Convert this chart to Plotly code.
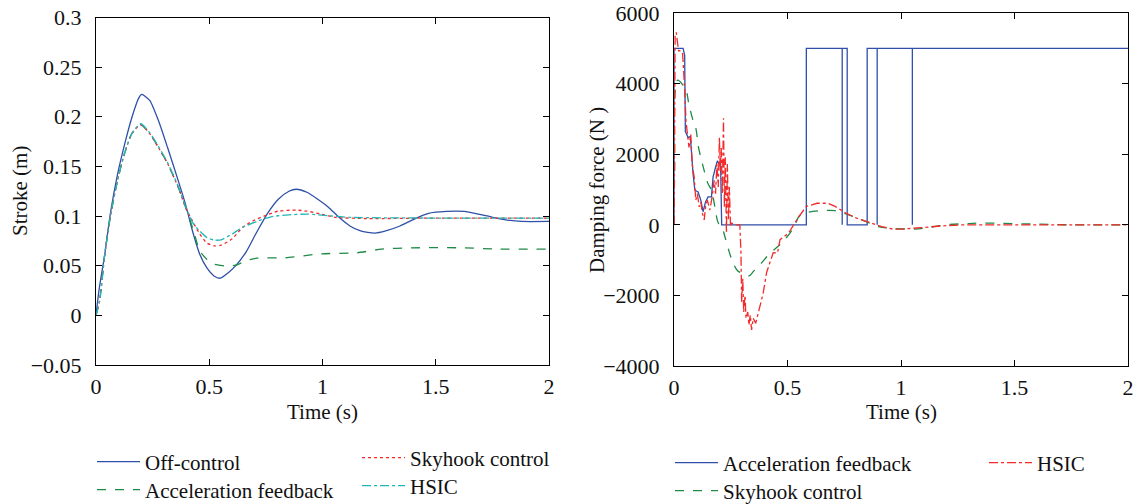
import plotly.graph_objects as go

# ---------------- Stroke (left panel) ----------------
t_off = [0, 0.013, 0.039, 0.063, 0.095, 0.126, 0.158, 0.189, 0.202, 0.237, 0.276, 0.316,
         0.363, 0.395, 0.426, 0.458, 0.489, 0.521, 0.548, 0.584, 0.616, 0.663, 0.71, 0.758,
         0.805, 0.852, 0.884, 0.931, 0.979, 1.026, 1.073, 1.121, 1.168, 1.231, 1.279, 1.342,
         1.405, 1.468, 1.547, 1.626, 1.689, 1.752, 1.815, 1.878, 2.0]
s_off = [0, 0.025, 0.062, 0.102, 0.142, 0.172, 0.199, 0.219, 0.2225, 0.2165, 0.196, 0.169,
         0.1357, 0.112, 0.085, 0.0616, 0.048, 0.0397, 0.0374, 0.043, 0.0498, 0.064, 0.084, 0.103,
         0.117, 0.125, 0.127, 0.124, 0.117, 0.109, 0.0987, 0.090, 0.085, 0.0828, 0.085, 0.090,
         0.097, 0.1027, 0.1047, 0.1047, 0.102, 0.0987, 0.096, 0.0946, 0.0946]

t_acc = [0, 0.016, 0.039, 0.063, 0.095, 0.126, 0.158, 0.197, 0.237, 0.276, 0.316, 0.363,
         0.395, 0.426, 0.458, 0.489, 0.521, 0.568, 0.616, 0.663, 0.71, 0.837, 0.995, 1.152,
         1.26, 1.39, 1.625, 1.78, 2.0]
s_acc = [0, 0.0145, 0.062, 0.099, 0.136, 0.163, 0.183, 0.192, 0.183, 0.169, 0.153, 0.129,
         0.109, 0.0886, 0.065, 0.0566, 0.0515, 0.0498, 0.0505, 0.055, 0.0576, 0.058, 0.062, 0.063,
         0.0667, 0.068, 0.068, 0.0667, 0.0667]

t_sky = [0, 0.016, 0.039, 0.063, 0.095, 0.126, 0.158, 0.197, 0.237, 0.276, 0.316, 0.363,
         0.395, 0.426, 0.458, 0.489, 0.521, 0.552, 0.6, 0.647, 0.694, 0.742, 0.805, 0.884,
         0.931, 0.994, 1.057, 1.2, 1.5, 2.0]
s_sky = [0, 0.0145, 0.062, 0.099, 0.136, 0.163, 0.183, 0.192, 0.183, 0.169, 0.153, 0.129,
         0.109, 0.095, 0.082, 0.073, 0.070, 0.0707, 0.0768, 0.0886, 0.0953, 0.1, 0.105, 0.106,
         0.105, 0.102, 0.0987, 0.0975, 0.098, 0.098]

t_hsic = [0, 0.016, 0.039, 0.063, 0.095, 0.126, 0.158, 0.197, 0.237, 0.276, 0.316, 0.363,
          0.395, 0.426, 0.458, 0.489, 0.521, 0.552, 0.6, 0.647, 0.71, 0.773, 0.837, 0.931,
          1.026, 1.121, 1.5, 2.0]
s_hsic = [0, 0.0145, 0.062, 0.099, 0.136, 0.163, 0.183, 0.193, 0.184, 0.17, 0.154, 0.13,
          0.11, 0.0936, 0.085, 0.0785, 0.0758, 0.076, 0.0818, 0.0886, 0.0946, 0.0993, 0.101, 0.102,
          0.1003, 0.0987, 0.098, 0.098]

# ---------------- Damping force (right panel) ----------------
t_f_acc = [0, 0, 0.04, 0.047, 0.05, 0.062, 0.072, 0.077, 0.084, 0.092, 0.106, 0.118, 0.128,
           0.139, 0.15, 0.165, 0.172, 0.183, 0.191, 0.199, 0.205, 0.21, 0.583, 0.583, 0.741,
           0.741, 0.741, 0.763, 0.763, 0.851, 0.851, 0.895, 0.895, 0.895, 1.05, 1.05, 1.05, 2.0]
f_acc = [0, 5000, 5000, 4800, 2650, 2470, 2500, 2000, 1440, 980, 930, 700, 370,
         650, 790, 790, 1350, 1630, 1810, 1720, 1810, 0, 0, 5000, 5000,
         0, 5000, 5000, 0, 0, 5000, 5000, 0, 5000, 5000, 0, 5000, 5000]

t_f_sky = [0, 0.003, 0.016, 0.04, 0.055, 0.066, 0.085, 0.096, 0.108, 0.122, 0.137, 0.15,
           0.165, 0.18, 0.195, 0.21, 0.224, 0.24, 0.26, 0.28, 0.31, 0.33, 0.35, 0.38, 0.424,
           0.46, 0.488, 0.53, 0.551, 0.583, 0.65, 0.71, 0.77, 0.836, 0.9, 0.963, 1.06, 1.12,
           1.2, 1.28, 1.36, 1.52, 1.75, 2.0]
f_sky = [0, 1500, 4100, 3950, 3770, 3400, 2930, 2740, 2190, 1810, 1440, 1160,
         980, 510, 50, -50, -330, -700, -1070, -1300, -1400, -1450, -1320, -1120, -800,
         -600, -420, -50, 240, 340, 400, 400, 280, 120, -50, -100, -120, -80,
         0, 30, 50, 30, 0, 0]

t_f_hsic = [0, 0.005, 0.01, 0.02, 0.03, 0.038, 0.047, 0.053, 0.066, 0.074, 0.08, 0.089,
            0.096, 0.103, 0.111, 0.118, 0.125, 0.133, 0.14, 0.147, 0.158, 0.168, 0.177, 0.183,
            0.189, 0.195, 0.2, 0.204, 0.208, 0.213, 0.218, 0.222, 0.226, 0.231, 0.235, 0.24,
            0.244, 0.249, 0.255, 0.27, 0.29, 0.295, 0.298, 0.303, 0.307, 0.313, 0.317, 0.325,
            0.33, 0.336, 0.342, 0.349, 0.36, 0.372, 0.393, 0.408, 0.437, 0.456, 0.467, 0.504,
            0.551, 0.583, 0.63, 0.678, 0.71, 0.757, 0.804, 0.868, 0.915, 0.963, 1.01, 1.09,
            1.18, 1.28, 1.44, 2.0]
f_hsic = [0, 5350, 5450, 4930, 4930, 4840, 3860, 2930, 2190, 2560, 1720, 1350,
          700, 880, 510, 650, 330, 140, 560, 700, 420, 790, 1260, 880,
          1720, 1070, 2470, 1530, 2190, 880, 3020, 510, 1910, -230, 1720, 140,
          1070, -50, 50, 0, 0, -790, -2190, -1530, -2470, -2000, -2650, -2470,
          -2840, -2560, -2980, -2650, -2790, -2470, -1930, -1350, -790, -800, -420, -240,
          240, 520, 610, 610, 520, 330, 190, 50, -50, -120, -120, -80,
          -30, 0, 0, 0]

# ---------------- styling ----------------
BLUE = "#2f4fa8"
GREEN = "#1f8a45"
RED = "#f42a2a"
CYAN = "#22b6b6"
FONT = "Liberation Serif"
FS = 21
TICK_FS = 22
W, H = 1133, 504
ITEM_W = 43  # legend symbol slot; text starts ITEM_W + 10 px into the legend

fig = go.Figure()

def px_x(v):
    return v / W

def px_y(v):
    return 1 - v / H

left_series = [
    ("Off-control", t_off, s_off, BLUE, "solid", "legend"),
    ("Acceleration feedback", t_acc, s_acc, GREEN, "dash", "legend2"),
    ("Skyhook control", t_sky, s_sky, RED, "dot", "legend3"),
    ("HSIC", t_hsic, s_hsic, CYAN, "dashdot", "legend4"),
]
for name, t, s, c, d, lg in left_series:
    fig.add_trace(go.Scatter(x=t, y=s, name=name, mode="lines", xaxis="x", yaxis="y",
                             line=dict(color=c, dash=d, width=1.3, shape="spline", smoothing=0.6),
                             legend=lg, showlegend=True))

right_series = [
    ("Acceleration feedback", t_f_acc, f_acc, BLUE, "solid", "legend5", "linear"),
    ("Skyhook control", t_f_sky, f_sky, GREEN, "dash", "legend6", "spline"),
    ("HSIC", t_f_hsic, f_hsic, RED, "dashdot", "legend7", "linear"),
]
for name, t, f, c, d, lg, shp in right_series:
    fig.add_trace(go.Scatter(x=t, y=f, name=name, mode="lines", xaxis="x2", yaxis="y2",
                             line=dict(color=c, dash=d, width=1.3, shape=shp),
                             legend=lg, showlegend=True))

axis_common = dict(showline=True, linecolor="black", linewidth=1, mirror="ticks",
                   ticks="inside", ticklen=6, tickcolor="black", showgrid=False,
                   zeroline=False, ticklabeloverflow="allow",
                   tickfont=dict(family=FONT, size=TICK_FS, color="#111"))

fig.update_layout(
    width=W, height=H, margin=dict(l=0, r=0, t=0, b=0, autoexpand=False),
    paper_bgcolor="white", plot_bgcolor="white", showlegend=True,
    font=dict(family=FONT, size=FS, color="#111"),
    xaxis=dict(domain=[px_x(96), px_x(549)], range=[0, 2], dtick=0.5, anchor="y",
               ticklabelstandoff=2, **axis_common),
    yaxis=dict(domain=[px_y(365), px_y(17.5)], range=[-0.05, 0.3], dtick=0.05, anchor="x",
               ticklabelstandoff=9, **axis_common),
    xaxis2=dict(domain=[px_x(674), px_x(1128)], range=[0, 2], dtick=0.5, anchor="y2",
                ticklabelstandoff=2, **axis_common),
    yaxis2=dict(domain=[px_y(366), px_y(13)], range=[-4000, 6000], dtick=2000, anchor="x2",
                exponentformat="none", separatethousands=False, ticklabelstandoff=9,
                **axis_common),
)

# axis titles
titles = [
    ("Time (s)", px_x(322), px_y(412), 0),
    ("Time (s)", px_x(901), px_y(412), 0),
    ("Stroke (m)", px_x(20), px_y(191), -90),
    ("Damping force (N )", px_x(597), px_y(190), -90),
]
for txt, x, y, ang in titles:
    fig.add_annotation(text=txt, x=x, y=y, xref="paper", yref="paper", showarrow=False,
                       xanchor="center", yanchor="middle", textangle=ang,
                       font=dict(family=FONT, size=FS, color="#111"))

# legend boxes: (legend id, text-start x px, centre y px)
legend_pos = [
    ("legend", 145, 462), ("legend2", 145, 490), ("legend3", 410, 458), ("legend4", 410, 486),
    ("legend5", 723, 463), ("legend6", 723, 491), ("legend7", 1037, 463),
]
for lg, tx, ty in legend_pos:
    fig.update_layout({lg: dict(x=px_x(tx - ITEM_W - 10), y=px_y(ty), xanchor="left",
                                yanchor="middle", itemwidth=ITEM_W,
                                bgcolor="rgba(0,0,0,0)", borderwidth=0, visible=True,
                                font=dict(family=FONT, size=FS, color="#111"),
                                tracegroupgap=0)})

fig.write_html("out.html")
